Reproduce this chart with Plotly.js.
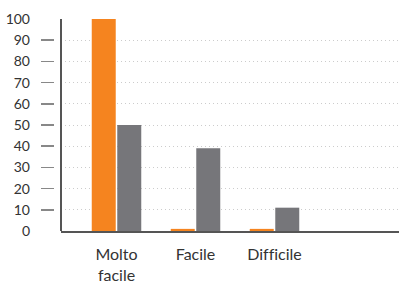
<!DOCTYPE html>
<html>
<head>
<meta charset="utf-8">
<script src="https://cdn.plot.ly/plotly-3.0.1.min.js"></script>
<style>
html,body{margin:0;padding:0;background:#fff;}
#chart{width:400px;height:283px;}
svg text{font-variant-ligatures:none;font-feature-settings:"liga" 0;}
</style>
</head>
<body>
<div id="chart"></div>
<script>
const categories = ["Molto<br>facile", "Facile", "Difficile"];
const seriesOrange = [100, 1, 1];
const seriesGray = [50, 39, 11];
const yTicks = [0, 10, 20, 30, 40, 50, 60, 70, 80, 90, 100];

const font = "Lato, 'Open Sans', sans-serif";

const data = [
  {type: "bar", x: categories, y: seriesOrange, marker: {color: "#F5841F"}, hoverinfo: "none", xaxis: "x", yaxis: "y"},
  {type: "bar", x: categories, y: seriesGray, marker: {color: "#76767A"}, hoverinfo: "none", xaxis: "x", yaxis: "y"}
];

const layout = {
  width: 400, height: 283,
  margin: {l: 40, r: 1, t: 19, b: 52, pad: 0},
  paper_bgcolor: "#fff", plot_bgcolor: "#fff",
  showlegend: false,
  barmode: "group",
  bargap: 0.354,
  bargroupgap: 0.06,
  font: {family: font, color: "#333", size: 14},
  xaxis: {
    domain: [0.0585, 1],
    range: [-0.7025, 3.576],
    showline: true, linecolor: "#555", linewidth: 2,
    ticks: "", showgrid: false, zeroline: false,
    tickfont: {family: font, size: 16, color: "#333"},
    ticklabelstandoff: 8,
    fixedrange: true
  },
  yaxis: {
    anchor: "free", position: 0,
    range: [0, 100],
    tickvals: yTicks, ticktext: yTicks.map(String),
    ticks: "inside", ticklen: 13, tickwidth: 1.5, tickcolor: "#888",
    showline: false, zeroline: false,
    showgrid: true, gridcolor: "#cccccc", griddash: "1px,3px", gridwidth: 1,
    tickfont: {family: font, size: 14, color: "#333"},
    ticklabelstandoff: 10,
    fixedrange: true
  },
  shapes: [
    {type: "line", xref: "x domain", yref: "y", x0: 0, x1: 0, y0: 0, y1: 100, line: {color: "#555", width: 2}}
  ]
};

Plotly.newPlot("chart", data, layout, {staticPlot: true, displayModeBar: false});
</script>
</body>
</html>
